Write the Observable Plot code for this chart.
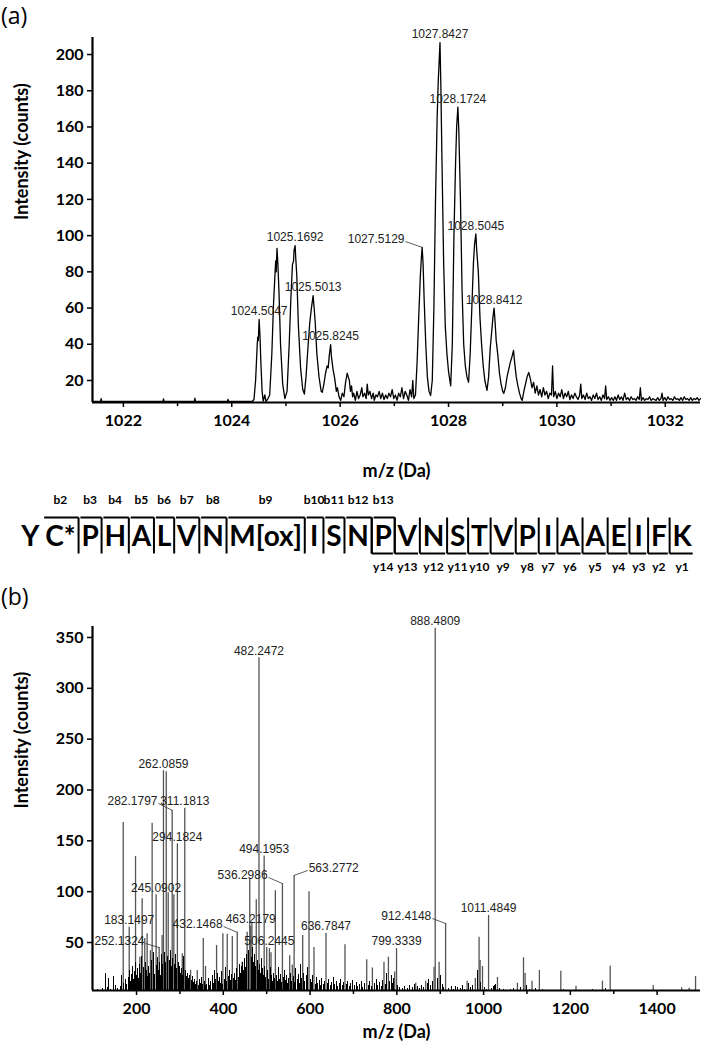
<!DOCTYPE html>
<html><head><meta charset="utf-8">
<script src="https://cdn.jsdelivr.net/npm/d3@7"></script>
<script src="https://cdn.jsdelivr.net/npm/@observablehq/plot@0.6"></script>
<style>
body{margin:0;background:#fff;}
#root{position:relative;width:702px;height:1050px;overflow:hidden;background:#fff;}
.tag{position:absolute;left:1px;font-family:"Open Sans",Lato,sans-serif;font-size:23px;line-height:1;color:#000;}
</style></head><body><div id="root">
<div class="tag" style="top:4px">(a)</div>
<div class="tag" style="top:585px">(b)</div>
</div>
<script>
// ================= Panel (a): precursor isotope envelope =================
const xDomainA = [1021.43, 1032.65];
const yDomainA = [7.85, 209.4];
const xTicksA = [1022, 1024, 1026, 1028, 1030, 1032];
const xMinorTicksA = [1023, 1025, 1027, 1029, 1031];
const yTicksA = [20, 40, 60, 80, 100, 120, 140, 160, 180, 200];
const profileA = [
 [1021.43,8.4],[1021.58,8.4],[1021.59,10.0],[1021.60,8.4],[1022.73,8.4],[1022.74,9.8],[1022.75,8.4],
 [1023.31,8.4],[1023.32,10.3],[1023.33,8.4],[1023.92,8.4],[1023.93,9.6],[1023.94,8.4],[1024.38,8.4],[1024.41,9.5],
 [1024.44,20],[1024.47,40],[1024.48,44],[1024.49,42],[1024.5047,53.7],[1024.52,45],[1024.54,28],[1024.56,14],[1024.58,8.6],[1024.61,12],[1024.63,8.5],[1024.66,9.5],
 [1024.70,12],[1024.74,35],[1024.77,62],[1024.80,80],[1024.81,86],[1024.82,80],[1024.835,93],[1024.85,85],[1024.87,70],[1024.90,40],[1024.94,18],[1024.98,10],
 [1025.02,14],[1025.06,40],[1025.09,65],[1025.12,84],[1025.14,86],[1025.15,92],[1025.1692,94.5],[1025.18,88],[1025.20,78],[1025.23,50],[1025.27,27],[1025.31,15],[1025.34,12.5],
 [1025.37,22],[1025.41,40],[1025.44,52],[1025.47,60],[1025.5013,66.9],[1025.52,60],[1025.54,52],[1025.57,35],[1025.61,22],[1025.65,14],[1025.67,13.5],
 [1025.70,18],[1025.73,24],[1025.76,28],[1025.78,27],[1025.80,34],[1025.8245,39.8],[1025.84,33],[1025.87,26],[1025.90,21],[1025.93,14],[1025.95,16],[1025.98,11],[1026.01,9],
 [1026.04,13],[1026.07,11],[1026.10,19],[1026.13,24],[1026.15,22],[1026.17,20],[1026.19,14],[1026.21,17],[1026.23,11],[1026.25,13],[1026.28,9],[1026.31,14],[1026.34,10],
 [1026.37,12],[1026.40,16],[1026.42,11],[1026.45,13],[1026.48,10],[1026.50,18],[1026.52,12],[1026.55,14],[1026.58,10],[1026.61,13],[1026.63,9],[1026.66,12],[1026.69,11],
 [1026.72,14],[1026.75,10],[1026.78,13],[1026.81,9.5],[1026.84,12],[1026.87,10],[1026.90,13],[1026.93,11],[1026.96,15],[1026.99,10],[1027.02,12],[1027.05,9],[1027.08,13],
 [1027.11,11],[1027.14,16],[1027.17,10],[1027.20,14],[1027.23,12],[1027.26,9],[1027.29,15],[1027.32,11],[1027.34,20],[1027.36,10],
 [1027.39,12],[1027.42,30],[1027.45,55],[1027.48,78],[1027.50,88],[1027.5129,93.5],[1027.53,85],[1027.55,65],[1027.58,40],[1027.61,22],[1027.64,14],[1027.67,11.7],
 [1027.70,20],[1027.73,60],[1027.76,120],[1027.79,165],[1027.81,185],[1027.83,198],[1027.8427,206.6],[1027.86,180],[1027.88,140],[1027.91,85],[1027.94,50],[1027.97,35],[1028.00,25],[1028.04,17],
 [1028.07,40],[1028.10,100],[1028.13,140],[1028.15,160],[1028.1724,171],[1028.19,158],[1028.22,120],[1028.25,70],[1028.28,40],[1028.31,28],[1028.34,22],[1028.37,19],
 [1028.40,35],[1028.43,60],[1028.46,85],[1028.48,95],[1028.5045,101],[1028.52,92],[1028.55,80],[1028.58,55],[1028.61,40],[1028.64,28],[1028.67,20],[1028.71,14.5],
 [1028.74,22],[1028.77,38],[1028.80,48],[1028.82,55],[1028.8412,60],[1028.86,52],[1028.88,42],[1028.91,34],[1028.94,24],[1028.97,18],[1029.00,14],[1029.02,12.9],
 [1029.05,16],[1029.08,22],[1029.11,26],[1029.14,30],[1029.17,33],[1029.20,36.6],[1029.22,30],[1029.25,22],[1029.28,17],[1029.31,13],[1029.34,10],[1029.36,9],
 [1029.39,14],[1029.42,18],[1029.45,22],[1029.48,24.5],[1029.51,21],[1029.54,16],[1029.57,19],[1029.60,13],[1029.63,17],[1029.66,12],[1029.69,15],[1029.72,11],
 [1029.75,16],[1029.78,12],[1029.81,14],[1029.84,10],[1029.87,13],[1029.90,12],[1029.92,28],[1029.94,11],[1029.97,14],[1030.00,10],[1030.03,13],[1030.06,11],
 [1030.09,15],[1030.12,10],[1030.15,13],[1030.18,11],[1030.21,14],[1030.24,9.5],[1030.27,12],[1030.30,10],[1030.33,13],[1030.36,11],[1030.39,9.5],[1030.42,12],
 [1030.44,18],[1030.46,10],[1030.49,12],[1030.52,9.5],[1030.55,13],[1030.58,10],[1030.61,11],[1030.64,9],[1030.67,12],[1030.70,10],[1030.73,13],[1030.76,9.5],
 [1030.79,11],[1030.82,9],[1030.85,12],[1030.88,10],[1030.90,17],[1030.92,9.5],[1030.95,11],[1030.98,9],[1031.01,10.5],[1031.04,9],[1031.07,11],[1031.10,9],
 [1031.13,12],[1031.16,9.5],[1031.19,11],[1031.22,9],[1031.25,13],[1031.28,9.5],[1031.31,10.5],[1031.34,9],[1031.37,11],[1031.40,9.5],[1031.43,10],[1031.46,9],
 [1031.49,11],[1031.52,9.5],[1031.54,16],[1031.56,9],[1031.59,10.5],[1031.62,9],[1031.65,10],[1031.68,9.5],[1031.71,11],[1031.74,9],[1031.77,10],[1031.80,9.5],
 [1031.83,9],[1031.86,10.5],[1031.89,9],[1031.92,10],[1031.94,13],[1031.96,9],[1031.99,10.5],[1032.02,9],[1032.05,11],[1032.08,9.5],[1032.11,10],[1032.14,9],
 [1032.17,11],[1032.20,9.5],[1032.23,10],[1032.26,9],[1032.29,10.5],[1032.32,9],[1032.35,11],[1032.38,9.5],[1032.41,10],[1032.44,9],[1032.47,10.5],[1032.50,9],
 [1032.53,10],[1032.56,9.5],[1032.59,10.5],[1032.62,9],[1032.65,10]
];
// labels placed directly above their peaks
const plainLabelsA = ["1024.5047","1025.1692","1025.5013","1025.8245","1027.8427","1028.1724","1028.5045","1028.8412"];
const plainIntA    = [53.7, 94.5, 66.9, 39.8, 206.6, 171, 101, 60];
// labels moved aside with a leader line
const leaderLabelsA    = ["1027.5129"];
const leaderIntA       = [93.5];
const leaderAnchorMzA  = [1027.206];
const leaderAnchorIntA = [96.75];

// ================= Sequence =================
const residues = ["Y","C*","P","H","A","L","V","N","M[ox]","I","S","N","P","V","N","S","T","V","P","I","A","A","E","I","F","K"];
const bIons = [2,3,4,5,6,7,8,9,10,11,12,13];
const yIons = [1,2,3,4,5,6,7,8,9,10,11,12,13,14];

// ================= Panel (b): MS/MS spectrum =================
const xDomainB = [98.5, 1500];
const yDomainB = [2.8, 360.8];
const xTicksB = [200, 400, 600, 800, 1000, 1200, 1400];
const xMinorTicksB = [300, 500, 700, 900, 1100, 1300];
const yTicksB = [50, 100, 150, 200, 250, 300, 350];
const majorMzB  = [169.3,183.1497,197.7,207.7,213,219,224.4,232,236,245.0902,252.1324,259,262.0859,268.5,273,282.1797,286,294.1824,305.5,311.1813,
  324.6,340,353.9,359,384.5,399,409,420.8,432.1468,443.6,455,461,463.2179,466,476,482.2472,494.1953,500,506.2445,510,520,536.2986,553,559,563.2772,
  583,597.6,609,636.7847,680.5,730.6,743.7,770.4,780.6,795,799.3339,843.6,866.6,885.8,888.4809,897.5,912.4148,962,981,989.6,992,997.5,1011.4849,
  1032,1078,1092,1095.7,1111.7,1128.6,1178,1213,1274,1291.8,1391,1456.5,1474,1488.6];
const majorIntB = [168,65,134.6,35.6,93,54,58.6,42,167.4,97,45,57,219,218,99,180,97,147,39,182,
  22.5,22.5,54,26.4,47,58.6,58,56,60,30.6,60,113,66,70,92,330,135,45,44,40,101,108,37,28,116,
  57,100,45,59,47.7,33,25,30.6,35.6,21,44,10,12,25.7,359,30.6,68.7,12,14.6,55.2,32.3,26.4,76.6,
  15.6,10,35,19.5,12,22.5,21.8,7,12,26.7,7.7,5.5,5,16.6];
const noiseB = [
 [104,3],[110,4],[116,3],[121,5],[128.5,19.5],[133,6],[136,15],[140,4],[146,12],[147.6,17],[152,8],[157,5],[162,7],[166,18],[171,10],[175,14],[178,9],
 [181,16],[184,22],[186,12],[189,19],[191,26],[193,14],[195,21],[198,30],[200,18],[202,24],[204,15],[206,28],[209,20],[211,36],[215,25],[217,18],
 [221,30],[223,22],[226,17],[228,26],[230,20],[234,32],[238,24],[240,40],[242,19],[247,27],[249,35],[251,22],[254,30],[256,18],[258,38],[260,28],
 [264,40],[266,30],[271,36],[275,32],[278,42],[280,26],[284,34],[288,28],[290,38],[292,24],[296,30],[298,22],[300,26],[302,20],[304,24],[307,18],
 [309,36],[313,22],[315,17],[318,20],[320,15],[322,18],[326,13],[328,17],[331,11],[334,14],[336,9],[338,12],[342,8],[345,14],[348,10],[350,16],
 [353,9],[356,12],[359,8],[362,9],[365,15],[368,8],[371,12],[374,18],[377,10],[380,22],[382,14],[386,20],[388,12],[391,16],[394,10],[396,21],[399,9],[402,14],[405,25],
 [407,12],[411,17],[414,22],[416,13],[418,19],[423,15],[426,20],[428,13],[430,24],[435,16],[437,28],[440,20],[442,26],[445,30],[447,22],[449,34],
 [451,25],[453,38],[457,42],[459,30],[465,35],[468,45],[470,30],[472,38],[474,26],[478,32],[480,22],[484,28],[486,20],[488,34],[490,24],[492,18],
 [496,26],[498,16],[502,22],[504,14],[508,25],[512,18],[514,12],[516,20],[518,15],[522,18],[525,12],[527,25],[530,14],[532,19],[534,11],[538,16],
 [540,22],[543,13],[545,18],[547,10],[550,15],[555,20],[557,12],[561,17],[565,11],[567,24],[570,14],[573,19],[576,10],[578,28],[580,15],[586,20],
 [588,12],[591,18],[593,10],[595,25],[600,14],[603,11],[606,18],[612,9],[615,16],[618,10],[621,13],[624,8],[627,15],[630,9],[633,12],[640,10],
 [643,14],[646,8],[649,11],[653,16],[656,9],[660,12],[663,7],[667,10],[671,14],[674,8],[677,11],[684,9],[687,12],[690,7],[694,10],[698,13],
 [702,8],[706,11],[710,7],[714,9],[718,12],[722,6],[726,10],[734,8],[738,12],[741,7],[748,10],[752,14],[756,8],[760,11],[764,7],[767,13],
 [774,9],[777,20],[784,12],[787,18],[790,10],[793,15],[802,8],[806,6],[812,5],[818,7],[824,5],[830,8],[836,6],[840,9],[848,7],[852,5],
 [858,8],[862,6],[870,10],[874,14],[878,8],[882,12],[893,15],[901,18],[905,9],[908,6],[918,5],[925,7],[930,4],[935,7],[940,6],[946,5],[952,8],
 [957,4],[966,10],[970,6],[975,8],[985,18],[987,22],[994,11],[1003,6],[1006,4],[1018,5],[1022,7],[1025.9,8],[1028,9],[1036,5],[1045,4],[1055,3],
 [1062,4],[1070,5],[1085,6],[1098,8],[1105,4],[1120,5],[1135,4],[1148,3],[1160,3],[1185,4],[1195,3],[1230,3],[1250,4],[1262,3],[1280,5],
 [1300,3],[1320,3],[1345,3],[1370,2.5],[1398,3],[1420,2.5],[1440,3],[1465,3],[1495,3]
];
const plainLabelsB = ["888.4809","482.2472","262.0859","311.1813","294.1824","245.0902","183.1497","494.1953","463.2179","506.2445","636.7847","799.3339","1011.4849"];
const plainIntB    = [359, 330, 219, 182, 147, 97, 65, 135, 66, 44, 59, 44, 76.6];
const leaderLabelsB    = ["252.1324","282.1797","536.2986","563.2772","432.1468","912.4148"];
const leaderIntB       = [45, 180, 108, 116, 60, 68.7];
const leaderAnchorMzB  = [220.8, 250.7, 504.5, 594.5, 400.7, 881.7];
const leaderAnchorIntB = [49.0, 186.7, 113.9, 120.8, 65.7, 73.6];
const leaderSideB      = ["end","end","end","start","end","end"];

// ================= helpers =================
const root = document.getElementById("root");
function place(svg, top) {
  svg.style.position = "absolute";
  svg.style.left = "0px";
  svg.style.top = top + "px";
  root.appendChild(svg);
}
const labelFont = "Liberation Sans, Arial, sans-serif";
const axisFont = "Lato, sans-serif";
const fmt = d => String(d);

function spectrumPlot(cfg) {
  return Plot.plot({
    width: 702, height: cfg.height,
    marginLeft: 92, marginRight: 2, marginTop: cfg.marginTop, marginBottom: cfg.marginBottom,
    style: {fontFamily: axisFont, background: "transparent", overflow: "visible", color: "#000"},
    x: {domain: cfg.xDomain},
    y: {domain: cfg.yDomain},
    marks: [
      Plot.axisX({ticks: cfg.xMinor, tickSize: 4, tickFormat: () => "", strokeWidth: 1.5}),
      Plot.axisX({ticks: cfg.xTicks, tickSize: 5, tickPadding: 7, tickFormat: fmt, fontSize: 16, fontWeight: "bold", label: null, strokeWidth: 1.5}),
      Plot.axisY({ticks: cfg.yTicks, tickSize: 5, tickPadding: 4, tickFormat: fmt, fontSize: 16, fontWeight: "bold", label: null, strokeWidth: 1.5}),
      Plot.text(["Intensity (counts)"], {frameAnchor: "left", rotate: -90, dx: -70, fontSize: 18, fontWeight: "bold", fill: "#000"}),
      Plot.text(["m/z (Da)"], {frameAnchor: "bottom", dy: cfg.xLabelDy, fontSize: 18, fontWeight: "bold", fill: "#000"}),
      ...cfg.marks,
      Plot.ruleX([cfg.xDomain[0]], {stroke: "#000", strokeWidth: 2.2}),
      Plot.ruleY([cfg.yDomain[0]], {stroke: "#000", strokeWidth: 2.2})
    ]
  });
}

// ---------- Panel (a) ----------
const plainA = plainLabelsA.map((t, i) => ({t, mz: parseFloat(t), v: plainIntA[i]}));
const leadA = leaderLabelsA.map((t, i) => ({t, mz: parseFloat(t), v: leaderIntA[i], ax: leaderAnchorMzA[i], ay: leaderAnchorIntA[i]}));
const plotA = spectrumPlot({
  height: 448, marginTop: 7, marginBottom: 76,
  xDomain: xDomainA, yDomain: yDomainA, xTicks: xTicksA, xMinor: xMinorTicksA, yTicks: yTicksA, xLabelDy: 74,
  marks: [
    Plot.line(profileA, {x: d => d[0], y: d => d[1], stroke: "#000", strokeWidth: 1.3}),
    Plot.text(plainA, {x: "mz", y: "v", text: "t", dy: -8, fontSize: 12, fontFamily: labelFont, fill: "#222"}),
    Plot.link(leadA, {x1: "ax", y1: "ay", x2: "mz", y2: "v", stroke: "#333", strokeWidth: 0.8}),
    Plot.text(leadA, {x: "ax", y: "ay", text: "t", dy: -2, dx: -1, textAnchor: "end", fontSize: 12, fontFamily: labelFont, fill: "#222"})
  ]
});
place(plotA, 30);

// ---------- Sequence ----------
const seqFontSize = 28;
const seqML = 18, seqMR = 8, seqW = 702;
const minGlyph = 13;
const ctx = document.createElement("canvas").getContext("2d");
ctx.font = `bold ${seqFontSize}px Lato`;
const widths = residues.map(r => Math.max(minGlyph, ctx.measureText(r).width));
const pad = (seqW - seqML - seqMR - d3.sum(widths)) / residues.length;
let acc = 0;
const seq = residues.map((r, i) => {
  const w = widths[i];
  const left = acc; acc += w + pad;
  return {r, i, left, right: acc, center: left + (w + pad) / 2, gl: left + pad / 2 - 1, gr: acc - pad / 2 + 1};
});
const total = acc;
const ROW_BLABEL = 15, ROW_TOP = 32, ROW_LETTER = 52, ROW_BOTTOM = 68, ROW_YLABEL = 82;
const bData = bIons.map(n => { const s = seq[n - 1]; return {lab: "b" + n, c: s.center, x1: s.gl, x2: s.right}; });
const yData = yIons.map(n => { const s = seq[residues.length - n]; return {lab: "y" + n, c: s.center, x1: s.left, x2: s.gr}; });
const plotSeq = Plot.plot({
  width: seqW, height: 100, marginLeft: seqML, marginRight: seqMR, marginTop: 0, marginBottom: 0,
  style: {fontFamily: axisFont, background: "transparent", overflow: "visible", color: "#000"},
  x: {domain: [0, total], axis: null},
  y: {domain: [0, 100], range: [0, 100], axis: null},
  marks: [
    Plot.text(seq, {x: "center", y: ROW_LETTER, text: "r", fontSize: seqFontSize, fontWeight: "bold", fill: "#000"}),
    Plot.text(bData, {x: "c", y: ROW_BLABEL, text: "lab", fontSize: 12, fontWeight: "bold", fill: "#000"}),
    Plot.text(yData, {x: "c", y: ROW_YLABEL, text: "lab", fontSize: 12, fontWeight: "bold", fill: "#000"}),
    Plot.link(bData, {x1: "x1", x2: "x2", y1: ROW_TOP, y2: ROW_TOP, stroke: "#000", strokeWidth: 2}),
    Plot.link(bData, {x1: "x2", x2: "x2", y1: ROW_TOP, y2: ROW_BOTTOM, stroke: "#000", strokeWidth: 2}),
    Plot.link(yData, {x1: "x1", x2: "x2", y1: ROW_BOTTOM, y2: ROW_BOTTOM, stroke: "#000", strokeWidth: 2}),
    Plot.link(yData, {x1: "x1", x2: "x1", y1: ROW_TOP, y2: ROW_BOTTOM, stroke: "#000", strokeWidth: 2})
  ]
});
place(plotSeq, 485);

// ---------- Panel (b) ----------
const majorB = majorMzB.map((mz, i) => ({mz, v: majorIntB[i]}));
const noiseTab = noiseB.map(([mz, v]) => ({mz, v}));
const plainB = plainLabelsB.map((t, i) => ({t, mz: parseFloat(t), v: plainIntB[i]}));
const leadB = leaderLabelsB.map((t, i) => ({t, mz: parseFloat(t), v: leaderIntB[i], ax: leaderAnchorMzB[i], ay: leaderAnchorIntB[i], side: leaderSideB[i]}));
const plotB = spectrumPlot({
  height: 450, marginTop: 26, marginBottom: 60,
  xDomain: xDomainB, yDomain: yDomainB, xTicks: xTicksB, xMinor: xMinorTicksB, yTicks: yTicksB, xLabelDy: 47,
  marks: [
    Plot.ruleX(majorB, {x: "mz", y1: yDomainB[0], y2: "v", stroke: "#555", strokeWidth: 1.3}),
    Plot.ruleX(noiseTab, {x: "mz", y1: yDomainB[0], y2: "v", stroke: "#000", strokeWidth: 1, shapeRendering: "crispEdges"}),
    Plot.text(plainB, {x: "mz", y: "v", text: "t", dy: -7, fontSize: 12, fontFamily: labelFont, fill: "#222"}),
    Plot.link(leadB, {x1: "ax", y1: "ay", x2: "mz", y2: "v", stroke: "#333", strokeWidth: 0.8}),
    Plot.text(leadB.filter(d => d.side === "end"), {x: "ax", y: "ay", text: "t", dy: -2, dx: -1, textAnchor: "end", fontSize: 12, fontFamily: labelFont, fill: "#222"}),
    Plot.text(leadB.filter(d => d.side === "start"), {x: "ax", y: "ay", text: "t", dy: -2, dx: 1, textAnchor: "start", fontSize: 12, fontFamily: labelFont, fill: "#222"})
  ]
});
place(plotB, 600);
</script>
</body></html>
